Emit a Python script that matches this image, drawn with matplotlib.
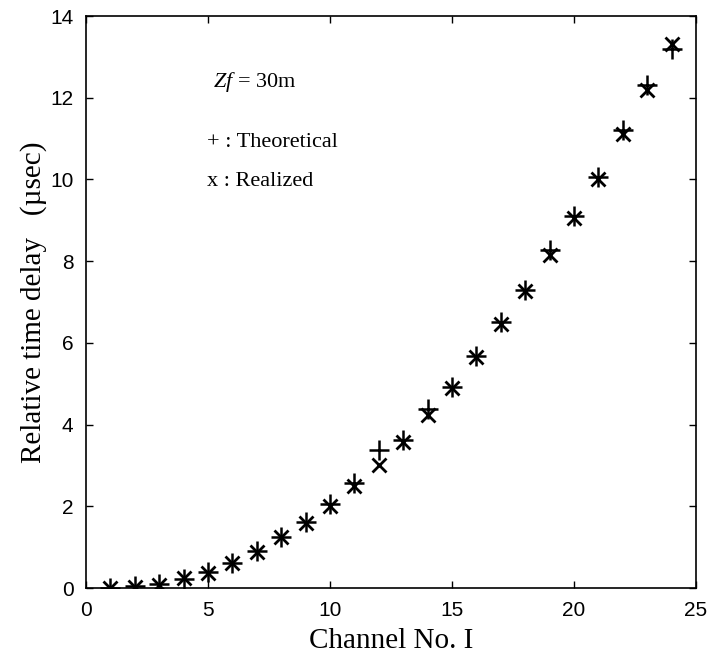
import numpy as np
import matplotlib.pyplot as plt

plt.rcParams['mathtext.fontset'] = 'custom'
plt.rcParams['mathtext.it'] = 'Liberation Serif:italic'
plt.rcParams['mathtext.rm'] = 'Liberation Serif'

channel = np.arange(1, 25)
theoretical = [0.0, 0.04, 0.09, 0.22, 0.38, 0.62, 0.9, 1.26, 1.62, 2.06, 2.57, 3.37,
               3.62, 4.38, 4.92, 5.68, 6.5, 7.3, 8.27, 9.1, 10.05, 11.2, 12.3, 13.2]
realized = [0.0, 0.03, 0.07, 0.24, 0.37, 0.6, 0.88, 1.24, 1.58, 2.0, 2.5, 3.02,
            3.58, 4.23, 4.89, 5.65, 6.46, 7.27, 8.15, 9.05, 10.02, 11.1, 12.19, 13.32]

fig = plt.figure(figsize=(7.1, 6.64), dpi=100)
ax = fig.add_axes([86 / 710, 1 - 588 / 664, 610 / 710, 572 / 664])

ax.plot(channel, theoretical, '+', color='black', markersize=14, mew=1.8)
ax.plot(channel, realized, 'x', color='black', markersize=10, mew=2.0)

ax.set_xlim(0, 25)
ax.set_ylim(0, 14)
ax.set_xticks(np.arange(0, 26, 5))
ax.set_yticks(np.arange(0, 15, 2))
ax.tick_params(direction='in', top=True, right=True, length=5, width=1, labelsize=15, pad=9)
for lab in ax.get_xticklabels() + ax.get_yticklabels():
    lab.set_family('Liberation Sans')
for s in ax.spines.values():
    s.set_linewidth(1.2)

serif = 'Liberation Serif'
ax.set_xlabel('Channel No. I', family=serif, fontsize=21, labelpad=6)
ax.set_ylabel('Relative time delay   (\u00b5sec)', family=serif, fontsize=21, labelpad=2)

ax.text(5.2, 12.38, r'$Zf$' + ' = 30m', family=serif, fontsize=16, va='center')
ax.text(4.95, 10.9, '+ : Theoretical', family=serif, fontsize=16, va='center')
ax.text(4.95, 9.94, 'x : Realized', family=serif, fontsize=16, va='center')

plt.savefig('out.png')
